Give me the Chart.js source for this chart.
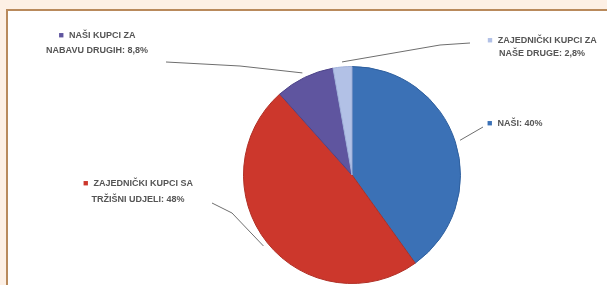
<!DOCTYPE html>
<html>
<head>
<meta charset="utf-8">
<script src="https://cdn.jsdelivr.net/npm/chart.js@4/dist/chart.umd.min.js"></script>
<style>
  html, body { margin: 0; padding: 0; }
  body { width: 607px; height: 285px; background: #fdf0e5; position: relative; overflow: hidden; }
  #frame { position: absolute; left: 6px; top: 9px; right: 0; bottom: 0; background: #ffffff;
           border-left: 2px solid #b98a5c; border-top: 2px solid #b98a5c; }
  #c { position: absolute; left: 0; top: 0; }
</style>
</head>
<body>
<div id="frame"></div>
<canvas id="c" width="607" height="285"></canvas>
<script>
// ---- data ----
const categories = ["NAŠI", "ZAJEDNIČKI KUPCI SA\nTRŽIŠNI UDJELI", "NAŠI KUPCI ZA\nNABAVU DRUGIH", "ZAJEDNIČKI KUPCI ZA\nNAŠE DRUGE"];
const shares = [40.1, 48.3, 8.8, 2.8];
const sliceColors = ["#3b71b6", "#cc372c", "#5f559f", "#b2c1e6"];
const rimColors = ["#2e5f9e", "#b02f25", "#4d4489", "#9fb0da"];

// ---- label placement (layout only) ----
const labelLayout = [
  { align: "left",   x: 487, y: [124],      path: [[483, 127]] },
  { align: "center", x: 138, y: [184, 200], path: [[232, 213], [212, 203]] },
  { align: "center", x: 97,  y: [36, 51],   path: [[240, 66], [166, 62]] },
  { align: "center", x: 542, y: [41, 54],   path: [[440, 45], [470, 43]] }
];

function fmtPct(v) {
  return (v >= 10 ? Math.round(v).toString() : v.toFixed(1).replace(".", ",")) + "%";
}

const labelPlugin = {
  id: "pieLabels",
  afterDatasetsDraw(chart) {
    const ctx = chart.ctx;
    const meta = chart.getDatasetMeta(0);
    ctx.save();
    ctx.font = "bold 9px 'Liberation Sans', Arial, sans-serif";
    ctx.textBaseline = "middle";
    meta.data.forEach((arc, i) => {
      const L = labelLayout[i];
      const p = arc.getProps(["x", "y", "startAngle", "endAngle", "outerRadius"], true);
      const mid = (p.startAngle + p.endAngle) / 2;
      const r = p.outerRadius + 5;
      // leader line
      ctx.strokeStyle = "#6e6e6e";
      ctx.lineWidth = 1;
      ctx.beginPath();
      ctx.moveTo(p.x + Math.cos(mid) * r, p.y + Math.sin(mid) * r);
      L.path.forEach(pt => ctx.lineTo(pt[0], pt[1]));
      ctx.stroke();
      // text
      const lines = categories[i].split("\n");
      lines[lines.length - 1] += ": " + fmtPct(shares[i]);
      lines.forEach((ln, k) => {
        const bullet = k === 0 ? "■  " : "";
        const wB = ctx.measureText(bullet).width;
        const wT = ctx.measureText(ln).width;
        let x0 = L.align === "center" ? L.x - (wB + wT) / 2 : L.x;
        ctx.textAlign = "left";
        if (bullet) {
          ctx.fillStyle = sliceColors[i];
          ctx.fillText(bullet, x0, L.y[k]);
        }
        ctx.fillStyle = "#555555";
        ctx.fillText(ln, x0 + wB, L.y[k]);
      });
    });
    ctx.restore();
  }
};

new Chart(document.getElementById("c"), {
  type: "pie",
  data: {
    labels: categories.map(c => c.replace("\n", " ")),
    datasets: [{
      data: shares,
      backgroundColor: sliceColors,
      borderColor: rimColors,
      borderWidth: 1
    }]
  },
  options: {
    responsive: false,
    animation: false,
    layout: { padding: { top: 66, bottom: 1, left: 200, right: 103 } },
    plugins: { legend: { display: false }, tooltip: { enabled: false } }
  },
  plugins: [labelPlugin]
});
</script>
</body>
</html>
